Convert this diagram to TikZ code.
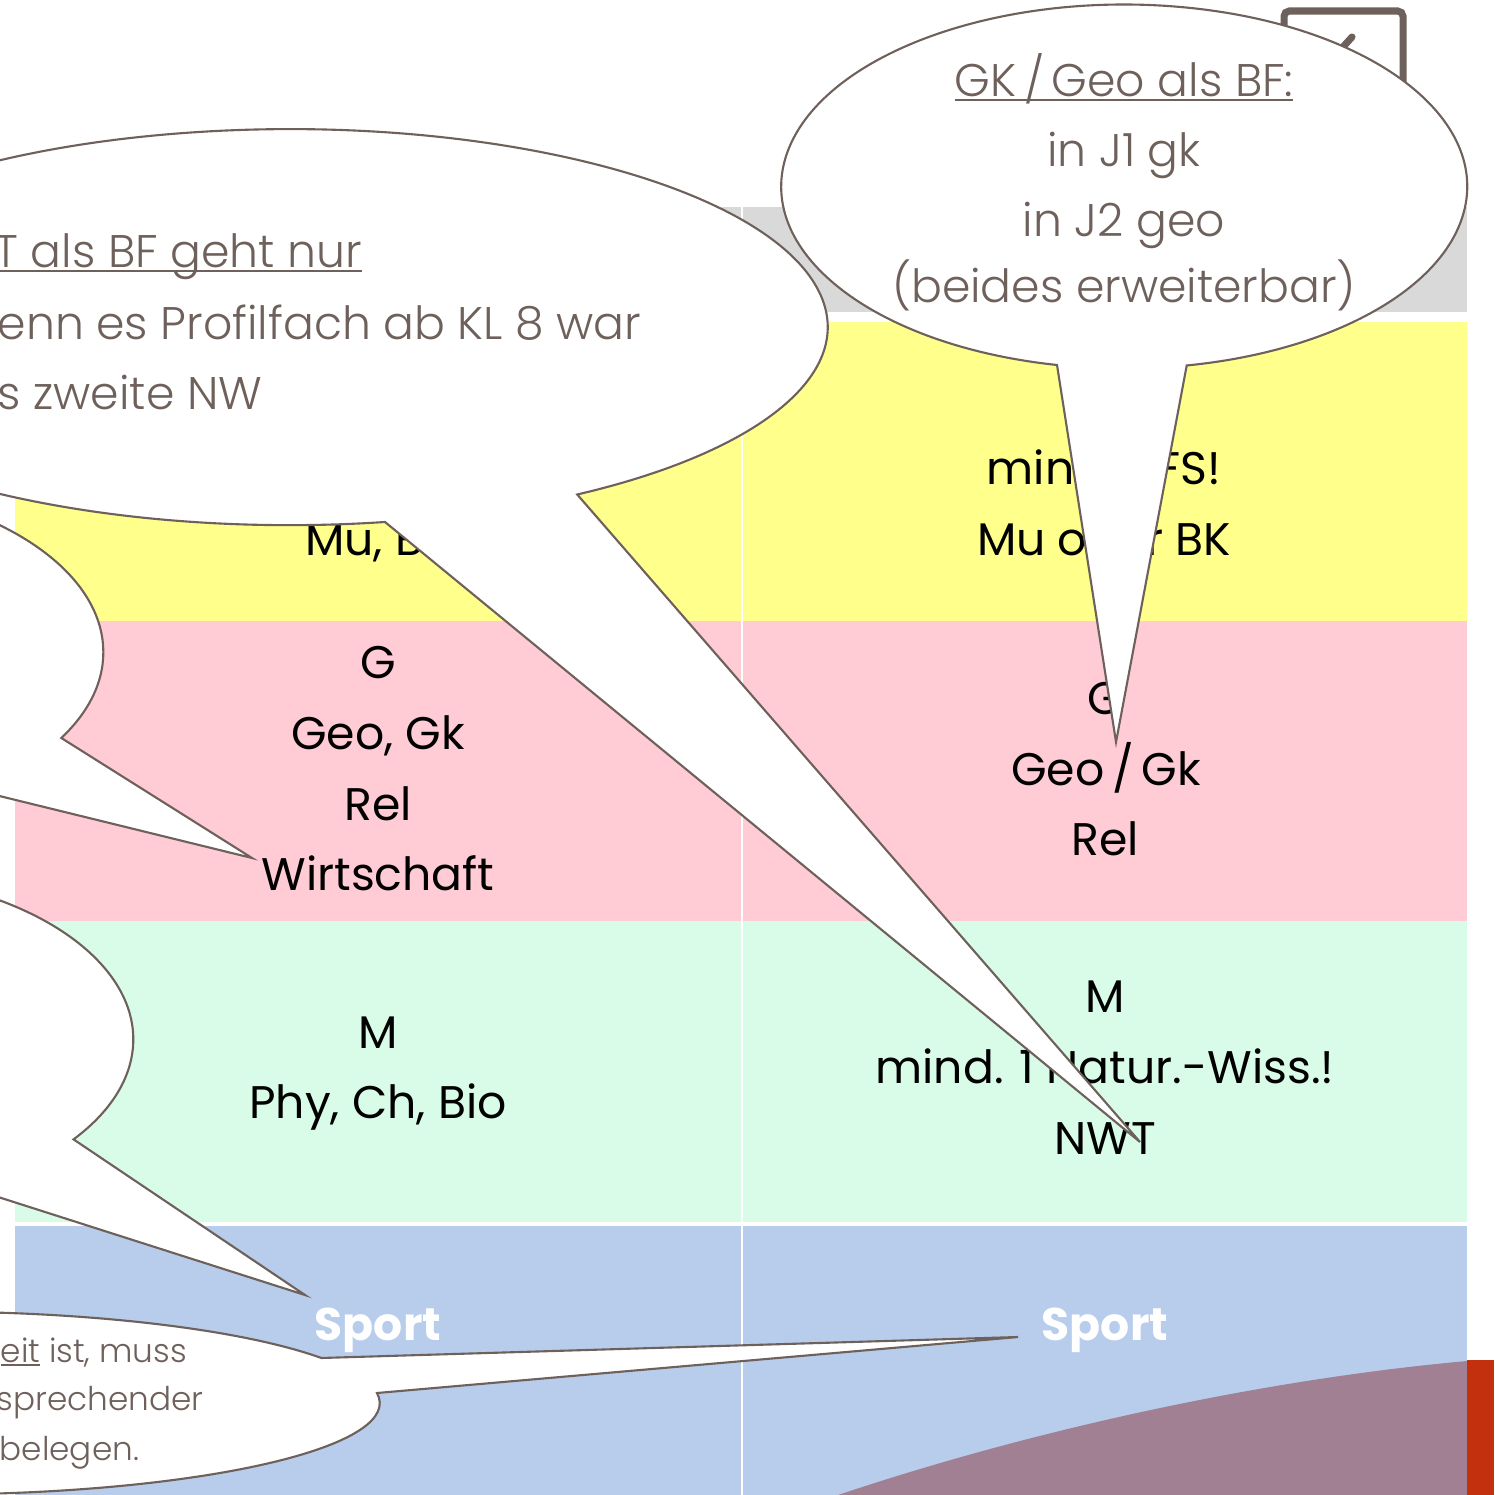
\documentclass[tikz,border=0pt]{standalone}
\usepackage{fontspec}
\setmainfont{Poppins}
\newfontfamily\thinfont{Poppins Light}
\usepackage{xcolor}
\definecolor{outl}{HTML}{6E605B}
\definecolor{hdgray}{HTML}{D9D9D9}
\definecolor{rowyel}{HTML}{FFFF8C}
\definecolor{rowpink}{HTML}{FFCCD6}
\definecolor{rowgreen}{HTML}{D9FCE9}
\definecolor{rowblue}{HTML}{B7CDEB}
\definecolor{mauve}{HTML}{A08092}
\definecolor{brick}{HTML}{C2300E}
\newsavebox\ulbox
\newcommand\ulbf[1]{\sbox\ulbox{#1}\rlap{\rule[-1.2pt]{\wd\ulbox}{0.55pt}}\usebox\ulbox}

\begin{document}
\begin{tikzpicture} [
      x = 0.01cm, y = -0.01cm,
      cell/.style = { anchor = base, inner sep = 0, font = \fontsize{13}{20}\selectfont },
      sport/.style = { cell, text = white, font = \fontsize{13}{20}\selectfont\bfseries },
      grey/.style = { inner sep = 0, text = outl, font = \thinfont\fontsize{13}{20}\selectfont },
      small/.style = { grey, anchor = base west, font = \thinfont\fontsize{9.3}{14}\selectfont },
      bubble/.style = { draw = outl, fill = white, line width = 0.6pt }
      ]
  \useasboundingbox (0,0) rectangle (1494,1495);
  \clip (0,0) rectangle (1494,1495);

  % table rows, two columns
  \foreach \a/\b in {15/741, 743/1467} {
    \fill[hdgray] (\a,207) rectangle (\b,312);
    \fill[rowyel] (\a,322) rectangle (\b,621);
    \fill[rowpink] (\a,621) rectangle (\b,921);
    \fill[rowgreen] (\a,921) rectangle (\b,1222);
    \fill[rowblue] (\a,1226) rectangle (\b,1495);
  }
  \fill[mauve] (838,1495) .. controls (1038,1428) and (1267,1379) .. (1467,1361) -- (1467,1495) -- cycle;
  \fill[brick] (1467,1360) rectangle (1494,1495);

  \foreach \n/\x/\y/\t in {lmu/378/556/{Mu, BK}, lg/378/678/G, lgeo/378/749/{Geo, Gk},
      lrel/378/820/Rel, lwi/378/890/Wirtschaft, lm/378/1048/M, lnw/378/1118/{Phy, Ch, Bio},
      rfs/1104/485/{mind. 1 FS!}, rmu/1104/556/{Mu oder BK}, rg/1105/714/G,
      rgeo/1106/785/{Geo\,/\,Gk}, rrel/1105/855/Rel, rm/1105/1012/M,
      rnw/1105/1083/{mind. 1 Natur.-Wiss.!}, rnwt/1105/1154/NWT}
    \node[cell] (\n) at (\x,\y) {\t};
  \node[sport] (lsport) at (378,1340) {Sport};
  \node[sport] (rsport) at (1105,1340) {Sport};

  % icon behind the bubble
  \draw[outl, line width = 2pt, rounded corners = 1.5pt] (1284,11) rectangle (1403,140);
  \draw[outl, line width = 2pt, line cap = round] (1343,47) -- (1352,37);

  % callouts
  \coordinate (tipwi) at (252,858);
  \coordinate (tipsp) at (305,1295);
  \coordinate (tipnwt) at (1140,1142);
  \coordinate (tipgeo) at (1116,742);
  \coordinate (tipsport) at (1018,1337);

  \draw[bubble] (-25,790) arc [start angle = 55.1, end angle = 390.7, x radius = 300, y radius = 168] -- (tipwi) -- cycle;
  \draw[bubble] (-30,1188) arc [start angle = 62.9, end angle = 396.8, x radius = 300, y radius = 167] -- (tipsp) -- cycle;
  \draw[bubble] (377,1393) arc [start angle = -6.3, end angle = 330.5, x radius = 450, y radius = 91.5] -- (tipsport) -- cycle;
  \draw[bubble] (385,522) arc [start angle = 79.8, end angle = 417.7, x radius = 538, y radius = 198] -- (tipnwt) -- cycle;
  \draw[bubble] (1057,365) arc [start angle = 101.3, end angle = 439.5, x radius = 343, y radius = 182] -- (tipgeo) -- cycle;

  \node[grey, anchor = base west] (nwt1) at (-6,268) {\ulbf{T als BF geht nur}};
  \node[grey, anchor = base west] (nwt2) at (-3,340) {enn es Profilfach ab KL 8 war};
  \node[grey, anchor = base west] (nwt3) at (-3,410) {s zweite NW};

  \node[grey, anchor = base] (geo1) at (1124,97) {\ulbf{GK\,/\,Geo als BF:}};
  \node[grey, anchor = base] (geo2) at (1124,167) {in J1 gk};
  \node[grey, anchor = base] (geo3) at (1124,237) {in J2 geo};
  \node[grey, anchor = base] (geo4) at (1124,303) {(beides erweiterbar)};

  \node[small] (sp1) at (0,1362) {\ulbf{eit} ist, muss};
  \node[small] (sp2) at (-4,1410) {sprechender};
  \node[small] (sp3) at (-1,1460) {belegen.};
\end{tikzpicture}
\end{document}
